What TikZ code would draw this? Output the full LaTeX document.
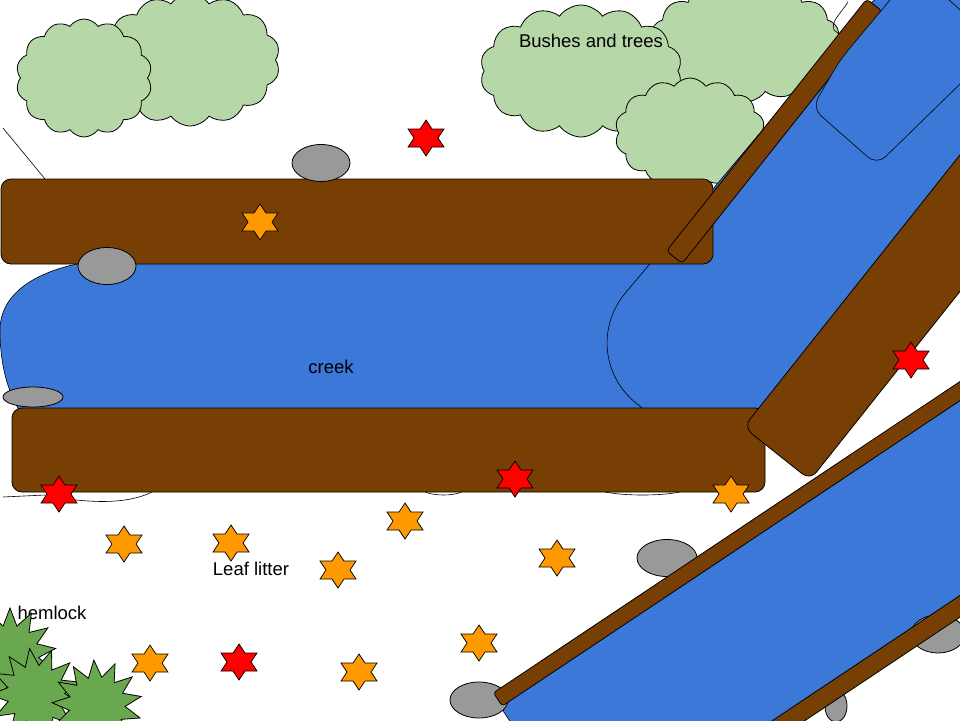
\documentclass[tikz,border=0pt]{standalone}
\usepackage{fontspec}
\setmainfont{Liberation Sans}
\usetikzlibrary{shapes.geometric,shapes.symbols,positioning}
\definecolor{logbrown}{HTML}{783F04}
\definecolor{creekblue}{HTML}{3C78D8}
\definecolor{bushgreen}{HTML}{B6D7A8}
\definecolor{hemlockgreen}{HTML}{6AA84F}
\definecolor{rockgrey}{HTML}{999999}
\definecolor{leaforange}{HTML}{FF9900}
\definecolor{leafred}{HTML}{FF0000}
\tikzset{
  leaf/.pic={\draw[fill=#1,line width=0.7pt] (0,-18) -- (6,-9) -- (18,-9) -- (12,0) -- (18,9) -- (6,9)
     -- (0,18) -- (-6,9) -- (-18,9) -- (-12,0) -- (-18,-9) -- (-6,-9) -- cycle;}
}
\begin{document}
\begin{tikzpicture}[x=1pt,y=-1pt,line width=0.8pt,
  every node/.style={font=\fontsize{18.5pt}{22pt}\selectfont},
  bush/.style={cloud,cloud puffs=14,cloud puff arc=110,draw,fill=bushgreen,inner sep=0pt},
  hemlock/.style={star,star points=13,star point ratio=1.6,draw,fill=hemlockgreen,inner sep=0pt,minimum size=92pt},
  rock/.style={ellipse,draw,fill=rockgrey,inner sep=0pt},
  log/.style={draw,fill=logbrown,rounded corners=10pt},
  water/.style={draw,fill=creekblue,line width=0.6pt}]
  \useasboundingbox (0,0) rectangle (960,720);
  \clip (0,0) rectangle (960,720);
  \fill[white] (0,0) rectangle (960,720);
  % bushes
  \node[bush,minimum width=180pt,minimum height=132pt] (bush_b) at (190,60) {};
  \node[bush,minimum width=136pt,minimum height=118pt] (bush_a) at (84,78) {};
  \node[bush,minimum width=190pt,minimum height=120pt] (bush_d) at (745,42) {};
  \node[bush,minimum width=202pt,minimum height=132pt] (bush_c) at (581,71) {};
  \node[bush,minimum width=150pt,minimum height=110pt] (bush_e) at (690,133) {};
  \node (bush_label) at (591,41) {Bushes and trees};
  % stray lines
  \draw[line width=0.6pt] (3,128) -- (45,179);
  \draw[line width=0.6pt] (848,2) .. controls (842,12) and (830,22) .. (834,30) -- (840,35);
  \draw[line width=0.6pt] (3,497) -- (45,495) .. controls (70,500) and (120,508) .. (152,492);
  \draw[line width=0.6pt] (425,492) .. controls (435,496) and (452,496) .. (462,492);
  \draw[line width=0.6pt] (605,492) .. controls (625,496) and (660,496) .. (680,492);
  % creek
  \draw[water] (700,258) -- (140,258) .. controls (55,258) and (0,285) .. (0,330)
     .. controls (0,365) and (8,400) .. (30,425) -- (700,425) -- cycle;
  \draw[water,rounded corners=80pt] (909,-44) -- (574,354) -- (723,472) -- (1171,-92) -- cycle;
  \node (creek_label) at (331,367) {creek};
  % logs
  \draw[log] (1,179) rectangle (713,264);
  \draw[log,rounded corners=4pt] (666.5,251) -- (682.1,263.5) -- (882.4,11.4) -- (866.8,-1.1) -- cycle;
  \draw[water,rounded corners=12pt] (915,-30) -- (840,60) -- (812,108) -- (877,165) -- (1000,45) -- cycle;
  \draw[log] (12,408) rectangle (765,492);
  \draw[log] (743.6,427.2) -- (810.1,480.1) -- (1103.7,110.5) -- (1037.2,57.7) -- cycle;
  % lower creek
  \draw[water,rounded corners=4pt] (494.5,698) -- (597.2,852) -- (1242.8,421.3) -- (1140.1,267.4) -- cycle;
  \node[rock,minimum width=54pt,minimum height=38pt] (rock_6) at (938,634) {};
  \node[rock,minimum width=22pt,minimum height=32pt] (rock_7) at (836,706) {};
  \draw[log,rounded corners=3pt] (404.1,966.3) -- (414.1,981.3) -- (1246.1,426.3) -- (1236.1,411.3) -- cycle;
  \node[rock,minimum width=58pt,minimum height=36pt] (rock_5) at (479,700) {};
  \node[rock,minimum width=60pt,minimum height=37pt] (rock_4) at (667,558) {};
  \draw[log,rounded corners=3pt] (493.4,692.8) -- (502.2,706.1) -- (1146,276.5) -- (1137.4,263.2) -- cycle;
  % rocks
  \node[rock,minimum width=58pt,minimum height=37pt] (rock_1) at (321,163) {};
  \node[rock,minimum width=58pt,minimum height=37pt] (rock_2) at (107,266) {};
  \node[rock,minimum width=60pt,minimum height=20pt] (rock_3) at (33,397) {};
  % leaf litter
  \node (litter_label) at (251,569) {Leaf litter};
  \foreach \i/\x/\y in {1/260/222,2/124/544,3/231/543,4/338/570,5/405/521,
      6/557/558,7/731/494,8/150/663,9/359/672,10/479/643}
    \pic (orange_\i) at (\x,\y) {leaf=leaforange};
  \foreach \i/\x/\y in {1/426/138,2/59/494,3/515/479,4/911/360,5/239/662}
    \pic (red_\i) at (\x,\y) {leaf=leafred};
  % hemlock
  \node (hemlock_label) at (52,613) {hemlock};
  \node[hemlock] (hemlock_1) at (10,654) {};
  \node[hemlock,rotate=8] (hemlock_2) at (36,694) {};
  \node[hemlock,rotate=4,minimum size=90pt] (hemlock_3) at (97,705) {};
\end{tikzpicture}
\end{document}
